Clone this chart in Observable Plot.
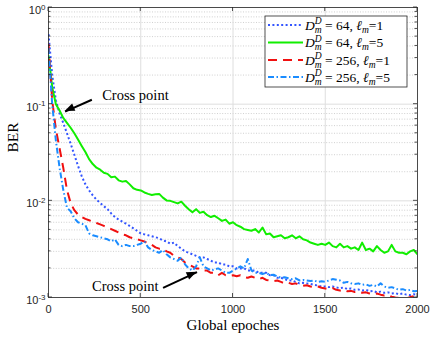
<!DOCTYPE html>
<html><head><meta charset="utf-8">
<script src="https://cdn.jsdelivr.net/npm/d3@7"></script>
<script src="https://cdn.jsdelivr.net/npm/@observablehq/plot@0.6"></script>
<style>body{margin:0;background:#fff;}</style>
</head><body><div id="chart"></div>
<script>
const epochs = [0,20,40,60,80,100,120,140,160,180,200,220,240,260,280,300,320,340,360,380,400,420,440,460,480,500,520,540,560,580,600,620,640,660,680,700,720,740,760,780,800,820,840,860,880,900,920,940,960,980,1000,1020,1040,1060,1080,1100,1120,1140,1160,1180,1200,1220,1240,1260,1280,1300,1320,1340,1360,1380,1400,1420,1440,1460,1480,1500,1520,1540,1560,1580,1600,1620,1640,1660,1680,1700,1720,1740,1760,1780,1800,1820,1840,1860,1880,1900,1920,1940,1960,1980,2000];

const berD64L1 = [0.53,0.20,0.11,0.080,0.064,0.050,0.039,0.030,0.023,0.018,
0.0148,0.0128,0.0114,0.0103,0.0095,0.0088,0.0082,0.0074,0.0068,0.0064,
0.0061,0.0058,0.0055,0.0052,0.0049,0.0046,0.0045,0.0044,0.0043,0.0042,
0.0041,0.0039,0.0038,0.0036,0.0037,0.0034,0.0032,0.0030,0.0029,0.0028,
0.0027,0.0026,0.0026,0.0025,0.0024,0.0023,0.0023,0.0022,0.0022,0.0021,
0.0021,0.0020,0.0020,0.0020,0.0019,0.0019,0.0019,0.0018,0.0018,0.0018,
0.0017,0.0017,0.0016,0.0016,0.00155,0.0015,0.0015,0.00145,0.0014,0.00142,
0.0014,0.00138,0.00135,0.00133,0.0013,0.0013,0.00128,0.0013,0.00127,0.00125,
0.00127,0.00122,0.00124,0.0012,0.00121,0.00118,0.0012,0.00116,0.00117,0.00113,
0.00115,0.00112,0.00113,0.0011,0.00111,0.00108,0.0011,0.00107,0.00106,0.00108,
0.00107];

const berD64L5 = [0.32,0.15,0.10,0.086,0.072,0.064,0.057,0.050,0.043,0.037,
0.032,0.027,0.024,0.022,0.021,0.0195,0.019,0.0175,0.0178,0.0163,
0.0158,0.016,0.0148,0.0135,0.013,0.0128,0.0122,0.0118,0.0115,0.0117,
0.0118,0.0108,0.0101,0.0100,0.0097,0.0094,0.0098,0.0089,0.0082,0.0076,
0.0082,0.0075,0.0077,0.0071,0.0068,0.0070,0.0066,0.0062,0.0064,0.0058,
0.0060,0.0056,0.0054,0.0051,0.0050,0.0049,0.0051,0.0047,0.0053,0.0045,
0.0046,0.0042,0.0043,0.0044,0.0041,0.0042,0.0044,0.0041,0.0043,0.0040,
0.0039,0.0037,0.0036,0.0035,0.0036,0.0035,0.0037,0.0034,0.0033,0.0036,
0.0033,0.0034,0.0032,0.0033,0.0031,0.0037,0.0031,0.0032,0.0030,0.0034,
0.0031,0.0029,0.0030,0.0035,0.0030,0.0029,0.0029,0.0028,0.0030,0.0031,
0.0028];

const berD256L1 = [0.42,0.11,0.055,0.035,0.022,0.013,0.0095,0.0080,0.0072,0.0068,
0.0065,0.0063,0.0061,0.0059,0.0057,0.0055,0.0053,0.0051,0.0049,0.0047,
0.0045,0.0044,0.0042,0.0041,0.0040,0.0039,0.0038,0.0036,0.0035,0.0033,
0.0032,0.0032,0.0030,0.0029,0.0027,0.0026,0.0025,0.0023,0.0022,0.0021,
0.0020,0.0020,0.0019,0.0019,0.0018,0.0018,0.0017,0.0018,0.0017,0.00168,
0.0017,0.00166,0.0017,0.00163,0.0016,0.00165,0.0016,0.00155,0.0016,0.00152,
0.0015,0.00148,0.0015,0.00145,0.0014,0.00142,0.00138,0.0014,0.00135,0.00132,
0.00134,0.0013,0.00128,0.0013,0.00126,0.00124,0.00122,0.00125,0.0012,0.00118,
0.0012,0.00116,0.00117,0.00114,0.00115,0.00112,0.00113,0.0011,0.00108,0.0011,
0.00107,0.00105,0.00106,0.00102,0.0010,0.00099,0.0010,0.00098,0.00101,0.00103,
0.00106];

const berD256L5 = [0.38,0.10,0.042,0.022,0.013,0.0085,0.0078,0.0066,0.0060,0.0058,
0.0056,0.0046,0.0044,0.0043,0.0042,0.0041,0.0040,0.0038,0.0040,0.0035,
0.0034,0.0035,0.0034,0.0034,0.0035,0.0036,0.0038,0.0033,0.0031,0.0030,
0.0029,0.0031,0.0028,0.0026,0.0025,0.0024,0.0026,0.0022,0.0020,0.0019,
0.0021,0.0026,0.0021,0.0020,0.0019,0.00195,0.0020,0.0019,0.0018,0.0018,
0.0019,0.0020,0.0021,0.0020,0.0025,0.0019,0.0018,0.0018,0.00175,0.0018,
0.0017,0.00172,0.00165,0.0016,0.00162,0.00158,0.00155,0.00158,0.0015,0.00152,
0.0015,0.00148,0.0015,0.00145,0.00147,0.00145,0.0015,0.00155,0.00153,0.0015,
0.00142,0.00145,0.0014,0.00138,0.0014,0.00135,0.00137,0.00132,0.00135,0.0013,
0.0014,0.0013,0.00126,0.00128,0.00124,0.0012,0.00122,0.00118,0.0012,0.00116,
0.00117];

const xTicks = [0, 500, 1000, 1500, 2000];
const yTicks = [1e-3, 1e-2, 1e-1, 1];
const yTickLabels = ["10^-3", "10^-2", "10^-1", "10^0"];
const yMinor = [];
for (const d of [1e-3, 1e-2, 1e-1]) for (let k = 2; k <= 9; k++) yMinor.push(k * d);

const seriesDD = ["64", "64", "256", "256"];
const seriesL = ["1", "5", "1", "5"];
const seriesColor = ["#3355ff", "#11ee00", "#f01010", "#1a8cff"];
const seriesDash = ["2,2.4", null, "9,6", "6,2.5,1.5,2.5"];
const seriesValues = [berD64L1, berD64L5, berD256L1, berD256L5];

const crossLabels = ["Cross point", "Cross point"];
const crossX = [291, 236];
const crossY = [0.122, 0.0013];
const arrowX1 = [235, 621], arrowY1 = [0.111, 0.00126];
const arrowX2 = [90, 805], arrowY2 = [0.0838, 0.00183];

const W = 436, H = 338, ML = 48, MR = 19, MT = 7, MB = 41;
const serif = "Liberation Serif, Times New Roman, serif";

const lineMarks = seriesValues.map((vals, s) =>
  Plot.line(vals, {x: (d, i) => epochs[i], y: d => d, stroke: seriesColor[s], strokeWidth: 2,
    strokeDasharray: seriesDash[s], strokeLinecap: "butt", clip: true}));

const plot = Plot.plot({
  width: W, height: H,
  marginLeft: ML, marginRight: MR, marginTop: MT, marginBottom: MB,
  style: {background: "#fff", fontFamily: "Liberation Sans, Arial, sans-serif", fontSize: "11px", color: "#262626"},
  x: {domain: [0, 2000], label: null},
  y: {type: "log", domain: [1e-3, 1], label: null},
  marks: [
    Plot.ruleY(yMinor, {stroke: "#c4c4c4", strokeDasharray: "1,1.6", strokeWidth: 0.8}),
    Plot.ruleY(yTicks, {stroke: "#dedede", strokeWidth: 1}),
    Plot.ruleX(xTicks, {stroke: "#dedede", strokeWidth: 1}),
    Plot.axisX({ticks: xTicks, tickSize: 0, tickPadding: 8, tickFormat: d => String(d), label: null, fontSize: 11}),
    Plot.axisY({ticks: yTicks, tickSize: 0, tickPadding: 3, dy: 3,
      tickFormat: d => yTickLabels[yTicks.indexOf(d)], label: null, fontSize: 11}),
    ...lineMarks,
    Plot.frame({stroke: "#262626", strokeWidth: 0.8}),
    Plot.text(crossLabels, {x: (d, i) => crossX[i], y: (d, i) => crossY[i], text: d => d,
      textAnchor: "start", fontFamily: serif, fontSize: 14.5, fill: "#000"}),
    Plot.link(arrowX1, {x1: (d, i) => arrowX1[i], y1: (d, i) => arrowY1[i],
      x2: (d, i) => arrowX2[i], y2: (d, i) => arrowY2[i], stroke: "#000", strokeWidth: 2}),
    Plot.text(["Global epoches"], {frameAnchor: "bottom", dy: 32, text: d => d, fontFamily: serif, fontSize: 15, fill: "#000"}),
    Plot.text(["BER"], {frameAnchor: "left", dx: -35, rotate: -90, text: d => d, fontFamily: serif, fontSize: 15.5, fill: "#000"})
  ]
});

const svg = d3.select(plot);
// superscript tick labels
svg.selectAll('g[aria-label="y-axis tick label"] text').each(function() {
  const t = this.textContent; const parts = t.split("^");
  const sel = d3.select(this); sel.text(null);
  sel.append("tspan").text(parts[0]);
  sel.append("tspan").attr("dy", "-0.55em").attr("font-size", "8px").text(parts[1]);
});

const sx = plot.scale("x"), sy = plot.scale("y");
// filled arrow heads at the arrow tips
arrowX1.forEach((_, i) => {
  const x1 = sx.apply(arrowX1[i]), y1 = sy.apply(arrowY1[i]);
  const x2 = sx.apply(arrowX2[i]), y2 = sy.apply(arrowY2[i]);
  const len = Math.hypot(x2 - x1, y2 - y1), ux = (x2 - x1) / len, uy = (y2 - y1) / len;
  const bx = x2 - 10 * ux, by = y2 - 10 * uy, nx = -uy, ny = ux;
  svg.append("polygon").attr("fill", "#000")
    .attr("points", `${x2},${y2} ${bx + 4 * nx},${by + 4 * ny} ${bx - 4 * nx},${by - 4 * ny}`);
});

// inward ticks on all four sides
const L = ML, R = W - MR, T = MT, B = H - MB;
const tg = svg.append("g").attr("stroke", "#262626").attr("stroke-width", 0.8);
for (const v of xTicks) {
  const px = sx.apply(v);
  tg.append("line").attr("x1", px).attr("x2", px).attr("y1", B).attr("y2", B - 4);
  tg.append("line").attr("x1", px).attr("x2", px).attr("y1", T).attr("y2", T + 4);
}
for (const v of yTicks) {
  const py = sy.apply(v);
  tg.append("line").attr("x1", L).attr("x2", L + 4).attr("y1", py).attr("y2", py);
  tg.append("line").attr("x1", R).attr("x2", R - 4).attr("y1", py).attr("y2", py);
}
for (const v of yMinor) {
  const py = sy.apply(v);
  tg.append("line").attr("x1", L).attr("x2", L + 2.5).attr("y1", py).attr("y2", py);
  tg.append("line").attr("x1", R).attr("x2", R - 2.5).attr("y1", py).attr("y2", py);
}

// legend
const lg = svg.append("g");
lg.append("rect").attr("x", 265).attr("y", 16).attr("width", 142).attr("height", 71)
  .attr("fill", "#fff").attr("stroke", "#262626").attr("stroke-width", 0.8);
const rowY = [25, 42.5, 60, 77];
seriesValues.forEach((_, s) => {
  const y = rowY[s];
  lg.append("line").attr("x1", 268).attr("x2", 303).attr("y1", y).attr("y2", y)
    .attr("stroke", seriesColor[s]).attr("stroke-width", 2)
    .attr("stroke-dasharray", seriesDash[s]);
  const t = lg.append("text").attr("x", 305).attr("y", y + 4.5).attr("text-anchor", "start")
    .attr("font-family", serif).attr("font-size", 13.5).attr("fill", "#000");
  t.append("tspan").attr("font-style", "italic").text("D");
  t.append("tspan").attr("font-style", "italic").attr("font-size", 9.5).attr("dy", -5.5).text("D");
  t.append("tspan").attr("font-style", "italic").attr("font-size", 9.5).attr("dx", -6.8).attr("dy", 8.5).text("m");
  t.append("tspan").attr("dy", -3).text(" = " + seriesDD[s] + ", ");
  t.append("tspan").attr("font-style", "italic").text("ℓ");
  t.append("tspan").attr("font-style", "italic").attr("font-size", 9.5).attr("dy", 3).text("m");
  t.append("tspan").attr("dy", -3).text("=" + seriesL[s]);
});

document.getElementById("chart").appendChild(plot);
</script>
</body></html>
